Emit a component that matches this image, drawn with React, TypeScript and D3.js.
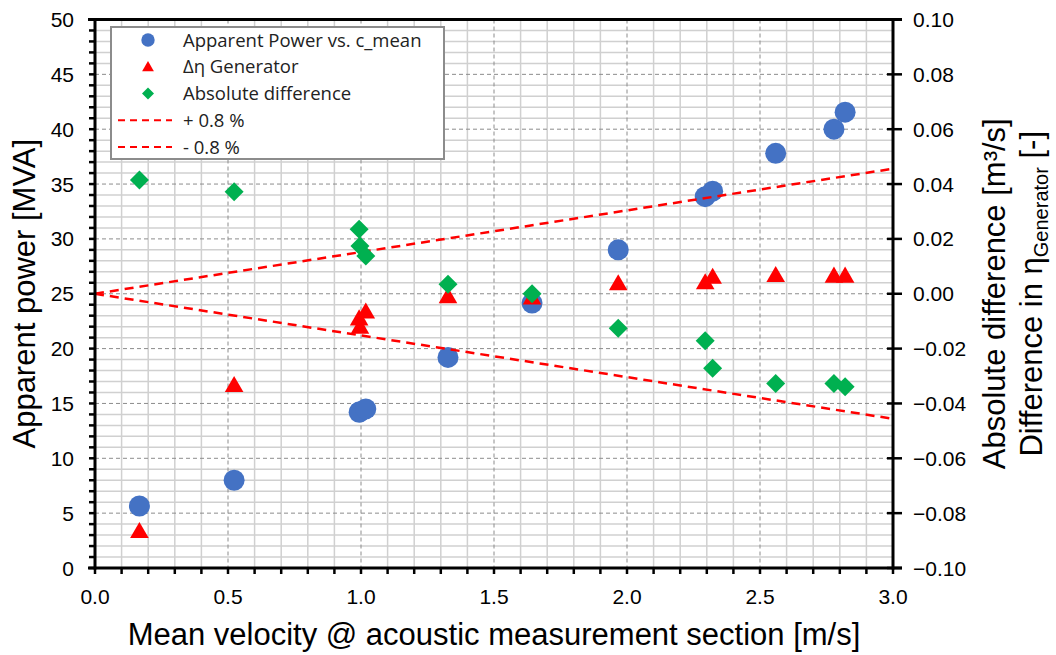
import React from 'react';
import * as d3 from 'd3';

// mean velocity at the acoustic section [m/s]
const velocity = [0.167, 0.523, 0.993, 0.996, 1.018, 1.327, 1.643, 1.967, 2.294, 2.322, 2.559, 2.778, 2.82];
// apparent power [MVA]
const apparentPower = [5.65, 8.0, 14.2, 14.25, 14.5, 19.2, 24.15, 29.0, 33.85, 34.35, 37.8, 40.0, 41.55];
// delta eta generator [-]
const deltaEta = [-0.0871, -0.0339, -0.0096, -0.0126, -0.0071, -0.0015, -0.002, 0.0032, 0.0036, 0.0056, 0.0062, 0.006, 0.006];
// absolute difference [m3/s]
const absDiff = [0.0415, 0.0372, 0.0235, 0.0174, 0.0138, 0.0035, 0.0, -0.0126, -0.0171, -0.0272, -0.0327, -0.0327, -0.0339];

// +/- 0.8 % band (right axis)
const bandX = [0, 3.0];
const bandUpper = [0, 0.0456];
const bandLower = [0, -0.0456];

const xTicks = [0, 0.5, 1.0, 1.5, 2.0, 2.5, 3.0];
const yLeftTicks = [0, 5, 10, 15, 20, 25, 30, 35, 40, 45, 50];
const yRightTicks = [-0.1, -0.08, -0.06, -0.04, -0.02, 0, 0.02, 0.04, 0.06, 0.08, 0.1];

const BLUE = '#4472C4';
const RED = '#FF0000';
const GREEN = '#00B050';

const W = 1056;
const H = 655;
const left = 95;
const right = 893;
const top = 19.5;
const bottom = 568;

const diamond = (r: number) => `M0,${-r}L${r},0L0,${r}L${-r},0Z`;

export default function App() {
  const x = d3.scaleLinear().domain([0, 3]).range([left, right]);
  const yL = d3.scaleLinear().domain([0, 50]).range([bottom, top]);
  const yR = d3.scaleLinear().domain([-0.1, 0.1]).range([bottom, top]);

  const minorX = d3.range(0, 31).map((i) => i / 10);
  const minorY = d3.range(0, 51);

  const tri = d3.symbol().type(d3.symbolTriangle).size(150)();
  const triSmall = d3.symbol().type(d3.symbolTriangle).size(60)();

  const bandLine = d3
    .line<number>()
    .x((_, i) => x(bandX[i]))
    .y((d) => yR(d));

  const font = "'Liberation Sans', Arial, sans-serif";
  const legendFont = "'Open Sans', 'Noto Sans', sans-serif";

  const legendRows = [
    { label: 'Apparent Power vs. c_mean', kind: 'circle' },
    { label: 'Δη Generator', kind: 'tri' },
    { label: 'Absolute difference', kind: 'diamond' },
    { label: '+ 0.8 %', kind: 'line' },
    { label: '- 0.8 %', kind: 'line' },
  ];
  const legendY = d3.scaleLinear().domain([0, 4]).range([40, 147]);

  return (
    <svg
      width={W}
      height={H}
      style={{ position: 'absolute', left: 0, top: 0, background: '#fff' }}
    >
      {/* minor grid */}
      <g stroke="#d0d0d0" strokeWidth={1.5}>
        {minorX
          .filter((v) => Math.round(v * 10) % 5 !== 0)
          .map((v) => (
            <line key={'mx' + v} x1={x(v)} x2={x(v)} y1={top} y2={bottom} />
          ))}
        {minorY
          .filter((v) => v % 5 !== 0)
          .map((v) => (
            <line key={'my' + v} x1={left} x2={right} y1={yL(v)} y2={yL(v)} />
          ))}
      </g>
      {/* major grid */}
      <g stroke="#8c8c8c" strokeWidth={1} strokeDasharray="4 3">
        {xTicks.slice(1, -1).map((v) => (
          <line key={'Mx' + v} x1={x(v)} x2={x(v)} y1={top} y2={bottom} />
        ))}
        {yLeftTicks.slice(1, -1).map((v) => (
          <line key={'My' + v} x1={left} x2={right} y1={yL(v)} y2={yL(v)} />
        ))}
      </g>

      {/* apparent power */}
      {velocity.map((v, i) => (
        <circle key={'c' + i} cx={x(v)} cy={yL(apparentPower[i])} r={10.5} fill={BLUE} />
      ))}

      {/* +/- 0.8 % band */}
      <path d={bandLine(bandUpper) || ''} fill="none" stroke={RED} strokeWidth={2.5} strokeDasharray="9 6" />
      <path d={bandLine(bandLower) || ''} fill="none" stroke={RED} strokeWidth={2.5} strokeDasharray="9 6" />

      {/* delta eta */}
      {velocity.map((v, i) => (
        <path key={'t' + i} d={tri || ''} transform={`translate(${x(v)},${yR(deltaEta[i])})`} fill={RED} />
      ))}

      {/* absolute difference */}
      {velocity.map((v, i) => (
        <path key={'d' + i} d={diamond(9.5)} transform={`translate(${x(v)},${yR(absDiff[i])})`} fill={GREEN} />
      ))}

      {/* axes */}
      <g stroke="#000" strokeWidth={3} fill="none">
        <line x1={left} x2={left} y1={top - 1.5} y2={bottom + 1.5} />
        <line x1={right} x2={right} y1={top - 1.5} y2={bottom + 1.5} />
        <line x1={left - 7} x2={right + 9} y1={top} y2={top} />
        <line x1={left - 7} x2={right + 9} y1={bottom} y2={bottom} />
      </g>
      <g stroke="#000" strokeWidth={2.5}>
        {minorY.map((v) => (
          <line key={'lt' + v} x1={left - 6} x2={left} y1={yL(v)} y2={yL(v)} />
        ))}
        {minorX.map((v) => (
          <line key={'bt' + v} x1={x(v)} x2={x(v)} y1={bottom} y2={bottom + 6} />
        ))}
        {yRightTicks.map((v) => (
          <line key={'rt' + v} x1={right - 6} x2={right + 9} y1={yR(v)} y2={yR(v)} />
        ))}
      </g>

      {/* tick labels */}
      <g fontFamily={font} fontSize={21} fill="#000">
        {yLeftTicks.map((v) => (
          <text key={'yl' + v} x={74} y={yL(v)} dy="0.36em" textAnchor="end">
            {v}
          </text>
        ))}
        {yRightTicks.map((v) => (
          <text key={'yr' + v} x={913} y={yR(v)} dy="0.36em" textAnchor="start">
            {d3.format('.2f')(v)}
          </text>
        ))}
        {xTicks.map((v) => (
          <text key={'xt' + v} x={x(v)} y={604} textAnchor="middle">
            {d3.format('.1f')(v)}
          </text>
        ))}
      </g>

      {/* axis titles */}
      <g fontFamily={font} fontSize={31} fill="#000">
        <text x={(left + right) / 2} y={645} textAnchor="middle">
          Mean velocity @ acoustic measurement section [m/s]
        </text>
        <text transform={`translate(35,${(top + bottom) / 2}) rotate(-90)`} textAnchor="middle">
          Apparent power [MVA]
        </text>
        <text transform={`translate(1005,${(top + bottom) / 2}) rotate(-90)`} textAnchor="middle">
          Absolute difference [m³/s]
        </text>
        <text transform={`translate(1042,${(top + bottom) / 2}) rotate(-90)`} textAnchor="middle">
          Difference in η
          <tspan fontSize={20} dy={6}>Generator</tspan>
          <tspan dy={-6}>{'  [-]'}</tspan>
        </text>
      </g>

      {/* legend */}
      <rect x={111} y={27} width={333} height={132} fill="#fff" stroke="#8c8c8c" strokeWidth={2} />
      <g fontFamily={legendFont} fontSize={18.5} fill="#222">
        {legendRows.map((row, i) => {
          const cy = legendY(i);
          return (
            <g key={'lg' + i}>
              {row.kind === 'circle' && <circle cx={148} cy={cy} r={6.7} fill={BLUE} />}
              {row.kind === 'tri' && (
                <path d={triSmall || ''} transform={`translate(148,${cy + 1})`} fill={RED} />
              )}
              {row.kind === 'diamond' && (
                <path d={diamond(6)} transform={`translate(148,${cy})`} fill={GREEN} />
              )}
              {row.kind === 'line' && (
                <line x1={118} x2={172} y1={cy} y2={cy} stroke={RED} strokeWidth={2} strokeDasharray="7 5" />
              )}
              <text x={183} y={cy} dy="0.36em">
                {row.label}
              </text>
            </g>
          );
        })}
      </g>
    </svg>
  );
}
